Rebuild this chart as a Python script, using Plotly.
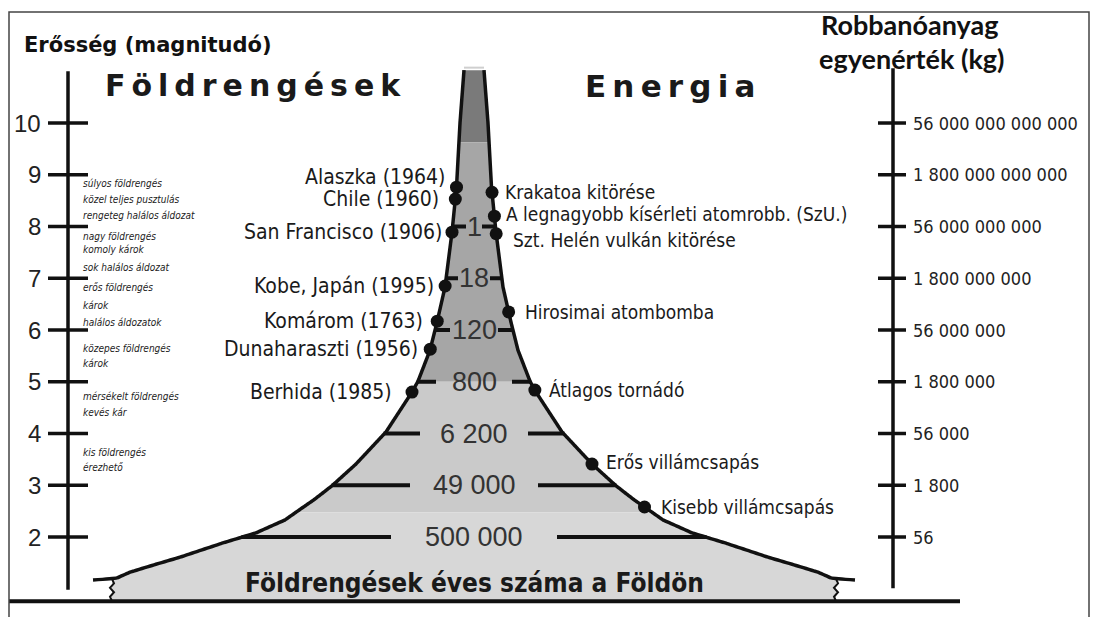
import numpy as np
import plotly.graph_objects as go

# ------------------------------------------------------------------ data
magnitudes = [10, 9, 8, 7, 6, 5, 4, 3, 2]
magnitude_labels = ["10", "9", "8", "7", "6", "5", "4", "3", "2"]
energy_labels = ["56 000 000 000 000", "1 800 000 000 000", "56 000 000 000",
                 "1 800 000 000", "56 000 000", "1 800 000", "56 000", "1 800", "56"]

count_magnitudes = [8, 7, 6, 5, 4, 3, 2]
count_labels = ["1", "18", "120", "800", "6 200", "49 000", "500 000"]

quake_names = ["Alaszka (1964)", "Chile (1960)", "San Francisco (1906)",
               "Kobe, Japán (1995)", "Komárom (1763)", "Dunaharaszti (1956)",
               "Berhida (1985)"]
quake_mags = [8.76, 8.53, 7.89, 6.85, 6.17, 5.63, 4.80]

energy_names = ["Krakatoa kitörése", "A legnagyobb kísérleti atomrobb. (SzU.)",
                "Szt. Helén vulkán kitörése", "Hirosimai atombomba",
                "Átlagos tornádó", "Erős villámcsapás", "Kisebb villámcsapás"]
energy_mags = [8.66, 8.20, 7.86, 6.35, 4.84, 3.41, 2.58]

effect_texts = ["súlyos földrengés", "közel teljes pusztulás", "rengeteg halálos áldozat",
                "nagy földrengés", "komoly károk", "sok halálos áldozat",
                "erős földrengés", "károk", "halálos áldozatok",
                "közepes földrengés", "károk",
                "mérsékelt földrengés", "kevés kár",
                "kis földrengés", "érezhető"]
effect_mags = [8.84, 8.53, 8.22, 7.80, 7.55, 7.20, 6.83, 6.48, 6.15,
               5.65, 5.36, 4.71, 4.40, 3.64, 3.35]

# pyramid outline: magnitude vs. half width (horizontal px units)
profile_mag = [11.02, 10.0, 8.76, 7.89, 6.83, 6.15, 5.61, 5.01, 4.80, 4.03,
               3.41, 2.99, 2.72, 2.56, 2.33, 2.08, 1.88, 1.61, 1.45, 1.32, 1.21]
profile_hw = [10, 14, 17.5, 22, 29, 37, 44, 56, 62, 88, 118, 142, 160, 172,
              189, 218, 252, 294, 322, 344, 357]
band_bounds = [11.02, 9.63, 5.0, 2.48, 1.21]
ground_mag = 0.76
base_hw = 362
tip_hw = 381
tip_mag = 1.17

# ------------------------------------------------------------------ style
C = 474
band_colors = ["#7a7a7a", "#a6a6a6", "#cacaca", "#d7d7d7"]
count_gaps = [8, 16, 24, 38, 54, 64, 83]
NARROW = "DejaVu Sans Condensed, Liberation Sans Narrow, Arial Narrow, Liberation Sans, sans-serif"
LIB = "Liberation Sans, Arial, sans-serif"
SANS = "DejaVu Sans, Verdana, sans-serif"

pm = np.array(profile_mag[::-1])
ph = np.array(profile_hw[::-1])


def hw(m):
    return np.interp(m, pm, ph)


fig = go.Figure()

# bands
for i, col in enumerate(band_colors):
    hi, lo = band_bounds[i], band_bounds[i + 1]
    m = np.unique(np.concatenate([np.linspace(lo, hi, 120),
                                  pm[(pm > lo) & (pm < hi)]]))
    w = hw(m)
    xs = list(C - w)
    ys = list(m)
    if i == len(band_colors) - 1:
        xs = [C - base_hw, C - base_hw] + xs
        ys = [ground_mag, lo] + ys
        xr = list((C + w)[::-1]) + [C + base_hw, C + base_hw]
        yr = list(m[::-1]) + [lo, ground_mag]
    else:
        xr = list((C + w)[::-1])
        yr = list(m[::-1])
    fig.add_trace(go.Scatter(x=xs + xr, y=ys + yr, fill="toself", fillcolor=col,
                             mode="none", hoverinfo="skip", showlegend=False))

# outline
m_all = np.unique(np.concatenate([np.linspace(band_bounds[-1], band_bounds[0], 300), pm]))
w_all = hw(m_all)
for sgn in (-1, 1):
    xs = [C + sgn * tip_hw] + list(C + sgn * w_all)
    ys = [tip_mag] + list(m_all)
    fig.add_trace(go.Scatter(x=xs, y=ys, mode="lines",
                             line=dict(color="#111111", width=3.5, shape="spline", smoothing=0.6),
                             hoverinfo="skip", showlegend=False))
    # little squiggle down to the ground
    zz = [0, 2, -2, 2, -2, 0]
    zm = np.linspace(tip_mag + 0.02, ground_mag, len(zz))
    fig.add_trace(go.Scatter(x=[C + sgn * base_hw + z for z in zz], y=list(zm), mode="lines",
                             line=dict(color="#111111", width=2),
                             hoverinfo="skip", showlegend=False))
# top cap
fig.add_trace(go.Scatter(x=[C - profile_hw[0], C + profile_hw[0]],
                         y=[profile_mag[0] + 0.05] * 2, mode="lines",
                         line=dict(color="#cfcfcf", width=2),
                         hoverinfo="skip", showlegend=False))

# count stubs
for mg, gap in zip(count_magnitudes, count_gaps):
    e = float(hw(mg))
    for sgn in (-1, 1):
        fig.add_trace(go.Scatter(x=[C + sgn * (e + 1), C + sgn * gap], y=[mg, mg],
                                 mode="lines", line=dict(color="#111111", width=4),
                                 hoverinfo="skip", showlegend=False))

# axes lines & ticks
fig.add_trace(go.Scatter(x=[68, 68], y=[11.0, 0.98], mode="lines",
                         line=dict(color="#111111", width=3.5), hoverinfo="skip", showlegend=False))
fig.add_trace(go.Scatter(x=[893, 893], y=[11.06, 1.01], mode="lines",
                         line=dict(color="#111111", width=3.5), hoverinfo="skip", showlegend=False))
for mg in magnitudes:
    fig.add_trace(go.Scatter(x=[48, 88], y=[mg, mg], mode="lines",
                             line=dict(color="#111111", width=3.5), hoverinfo="skip", showlegend=False))
    fig.add_trace(go.Scatter(x=[878, 906], y=[mg, mg], mode="lines",
                             line=dict(color="#111111", width=3.5), hoverinfo="skip", showlegend=False))

# ground line
fig.add_trace(go.Scatter(x=[9, 960], y=[ground_mag, ground_mag], mode="lines",
                         line=dict(color="#111111", width=4), hoverinfo="skip", showlegend=False))

# event dots
qx = [C - float(hw(m)) for m in quake_mags]
ex = [C + float(hw(m)) for m in energy_mags]
fig.add_trace(go.Scatter(x=qx, y=quake_mags, mode="markers",
                         marker=dict(color="#111111", size=13), hoverinfo="skip", showlegend=False))
fig.add_trace(go.Scatter(x=ex, y=energy_mags, mode="markers",
                         marker=dict(color="#111111", size=13), hoverinfo="skip", showlegend=False))

ann = []


def text(x, y, s, size, family=SANS, anchor="center", color="#111111", xshift=0, yshift=0,
         weight="normal", style="normal"):
    ann.append(dict(x=x, y=y, xref="x", yref="y", text=s, showarrow=False,
                    xanchor=anchor, yanchor="middle", xshift=xshift, yshift=yshift,
                    font=dict(family=family, size=size, color=color, weight=weight, style=style)))


# axis labels
for mg, lab in zip(magnitudes, magnitude_labels):
    text(43, mg, lab, 24, family=LIB, anchor="right", color="#222222")
for mg, lab in zip(magnitudes, energy_labels):
    text(911, mg, lab, 18, family=NARROW, anchor="left", color="#222222")

# counts
for mg, lab in zip(count_magnitudes, count_labels):
    text(C, mg, lab, 27, family=LIB, color="#333333")

# quake labels
q_shift = [10, 0, 0, 0, 0, 0, 0]
q_dx = [-10, -14, -8, -9, -12, -10, -18]
for x, mg, s, ys, dx in zip(qx, quake_mags, quake_names, q_shift, q_dx):
    text(x, mg, s, 21, family=NARROW, anchor="right", color="#1a1a1a", xshift=dx, yshift=ys)
e_shift = [0, 2, -6, 0, 0, 2, 0]
e_dx = [11, 10, 15, 14, 12, 12, 14]
for x, mg, s, ys, dx in zip(ex, energy_mags, energy_names, e_shift, e_dx):
    text(x, mg, s, 19, family=NARROW, anchor="left", color="#1a1a1a", xshift=dx, yshift=ys)

# effects
for mg, s in zip(effect_mags, effect_texts):
    text(81, mg, s, 10, family=NARROW, anchor="left", color="#222222", style="italic")

# titles
text(22, 11.51, "Erősség (magnitudó)", 21, family=SANS, anchor="left", weight="bold")
text(253, 10.72, "\u2009".join("Földrengések"), 30, family=SANS, weight="bold", color="#1a1a1a")
text(670, 10.72, "\u2009".join("Energia"), 31, family=SANS, weight="bold", color="#1a1a1a")
text(910, 11.91, "Robbanóanyag", 27, family="Lato, Open Sans, sans-serif", weight="bold")
text(911, 11.25, "egyenérték (kg)", 27, family="Lato, Open Sans, sans-serif", weight="bold")
text(C, 1.11, "Földrengések éves száma a Földön", 26,
     family=NARROW, weight="bold", color="#1a1a1a")

y_lo, y_hi = 0.454, 12.377
fig.update_layout(
    width=1094, height=617, autosize=False,
    margin=dict(l=0, r=0, t=0, b=0, pad=0),
    paper_bgcolor="white", plot_bgcolor="white",
    xaxis=dict(range=[0, 1094], visible=False, fixedrange=True),
    yaxis=dict(range=[y_lo, y_hi], visible=False, fixedrange=True),
    annotations=ann,
    shapes=[dict(type="rect", xref="x", yref="y", x0=9, x1=1089, y0=0.0, y1=12.145,
                 line=dict(color="#444444", width=1.5), fillcolor="rgba(0,0,0,0)", layer="above")],
    showlegend=False,
)

fig.write_html("out.html", config={"displayModeBar": False},
               post_script="document.body.style.margin='0px';document.body.style.overflow='hidden';")
